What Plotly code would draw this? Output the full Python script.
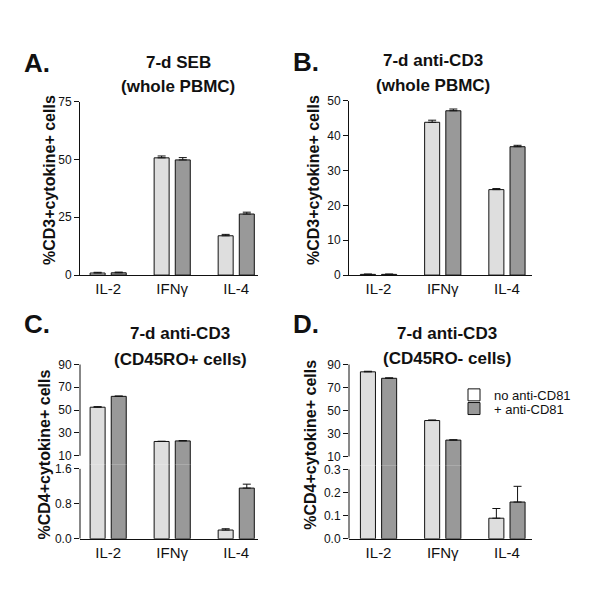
import math
import plotly.graph_objects as go

categories = ["IL-2", "IFNγ", "IL-4"]
series_names = ["no anti-CD81", "+ anti-CD81"]

# Panel A: 7-d SEB (whole PBMC), %CD3+cytokine+ cells
a_no = [0.9, 50.7, 17.0]
a_no_err = [0.3, 0.8, 0.6]
a_cd81 = [1.0, 49.8, 26.4]
a_cd81_err = [0.3, 1.0, 0.8]

# Panel B: 7-d anti-CD3 (whole PBMC)
b_no = [0.2, 43.8, 24.5]
b_no_err = [0.1, 0.6, 0.3]
b_cd81 = [0.2, 47.1, 36.8]
b_cd81_err = [0.1, 0.5, 0.4]

# Panel C: 7-d anti-CD3 (CD45RO+ cells), %CD4+cytokine+ cells
c_no = [52.5, 22.5, 0.20]
c_no_err = [0.5, 0.2, 0.03]
c_cd81 = [62.0, 23.0, 1.16]
c_cd81_err = [0.3, 0.3, 0.09]

# Panel D: 7-d anti-CD3 (CD45RO- cells)
d_no = [83.5, 41.2, 0.089]
d_no_err = [0.5, 0.5, 0.042]
d_cd81 = [77.9, 24.2, 0.159]
d_cd81_err = [0.4, 0.3, 0.068]

# tick values
a_ticks = [0, 25, 50, 75]
b_ticks = [0, 10, 20, 30, 40, 50]
upper_ticks = [10, 30, 50, 70, 90]
c_low_ticks = [0, 0.8, 1.6]
d_low_ticks = [0, 0.1, 0.2, 0.3]

LIGHT = "#dedede"
DARK = "#999999"
INK = "#111111"
FONT = "Liberation Sans, Arial, sans-serif"
OFF = 8  # page body margin


def px_y(p):
    return 1 - (p - OFF) / 600.0


def px_x(p):
    return (p - OFF) / 600.0


fig = go.Figure()


def add_pair(no, no_err, cd, cd_err, xa, ya):
    for vals, errs, col, name in [(no, no_err, LIGHT, series_names[0]),
                                  (cd, cd_err, DARK, series_names[1])]:
        fig.add_trace(go.Bar(
            x=categories, y=vals, name=name, showlegend=False, offsetgroup=name,
            marker=dict(color=col, line=dict(color=INK, width=1)),
            error_y=dict(type="data", array=errs, arrayminus=[0] * len(errs),
                         symmetric=False, color=INK, thickness=1, width=4),
            xaxis=xa, yaxis=ya,
        ))


def broken(top_px, ten_px, lowtop_px, zero_px, low_top_val, up_bottom_min):
    """Upper (10-90) and lower (0-low_top_val) panels of a broken y axis that touch,
    so that tall bars run continuously through the break."""
    scale_up = (ten_px - top_px) / 80.0
    up_bottom_px = math.floor(ten_px + (10 - up_bottom_min) * scale_up) + 0.0
    up_bottom_val = 10 - (up_bottom_px - ten_px) / scale_up
    scale_low = (zero_px - lowtop_px) / low_top_val
    low_range_top = (zero_px - up_bottom_px) / scale_low
    upper = dict(domain=[px_y(up_bottom_px), px_y(top_px)], range=[up_bottom_val, 90])
    lower = dict(domain=[px_y(zero_px), px_y(up_bottom_px)], range=[0, low_range_top])
    return upper, lower


c_up, c_low = broken(365.7, 459.3, 472.7, 544.3, 1.6, 2.5)
d_up, d_low = broken(365.7, 460.0, 473.3, 544.3, 0.3, 2.0)

add_pair(a_no, a_no_err, a_cd81, a_cd81_err, "x", "y")
add_pair(b_no, b_no_err, b_cd81, b_cd81_err, "x2", "y2")
add_pair(c_no, c_no_err, c_cd81, c_cd81_err, "x3", "y3")
add_pair(c_no, c_no_err, c_cd81, c_cd81_err, "x3", "y5")
add_pair(d_no, d_no_err, d_cd81, d_cd81_err, "x4", "y4")
add_pair(d_no, d_no_err, d_cd81, d_cd81_err, "x4", "y6")

# legend-only entries
fig.add_trace(go.Bar(x=[None], y=[None], name=series_names[0], showlegend=True,
                     offsetgroup=series_names[0], legend="legend",
                     marker=dict(color="white", line=dict(color=INK, width=1)),
                     xaxis="x4", yaxis="y4"))
fig.add_trace(go.Bar(x=[None], y=[None], name=series_names[1], showlegend=True,
                     offsetgroup=series_names[1], legend="legend2",
                     marker=dict(color=DARK, line=dict(color=INK, width=1)),
                     xaxis="x4", yaxis="y4"))

xcommon = dict(showline=True, linecolor=INK, linewidth=1, ticks="",
               showgrid=False, zeroline=False,
               tickfont=dict(family=FONT, size=15, color=INK))
ycommon = dict(showline=True, linecolor=INK, linewidth=1, ticks="outside",
               ticklen=5, tickcolor=INK, showgrid=False, zeroline=False,
               tickfont=dict(family=FONT, size=12, color=INK))
ybroken = {**ycommon, "showline": False}

left_dom = [px_x(80), px_x(258)]
right_dom = [px_x(349), px_x(532)]

legend_common = dict(xanchor="left", yanchor="middle", bgcolor="rgba(0,0,0,0)",
                     borderwidth=0, font=dict(family=FONT, size=13, color=INK))

fig.update_layout(
    width=600, height=600,
    margin=dict(l=0, r=0, t=0, b=0),
    paper_bgcolor="white", plot_bgcolor="rgba(0,0,0,0)",
    barmode="group", bargap=0.34, bargroupgap=0.29,
    font=dict(family=FONT, color=INK),
    xaxis=dict(domain=left_dom, range=[-0.44, 2.34], anchor="y", **xcommon),
    yaxis=dict(domain=[px_y(274.3), px_y(96.7)], range=[0, 75],
               tickvals=a_ticks, anchor="x", **ycommon),
    xaxis2=dict(domain=right_dom, range=[-0.46, 2.39], anchor="y2", **xcommon),
    yaxis2=dict(domain=[px_y(274.3), px_y(95.7)], range=[0, 50],
                tickvals=b_ticks, anchor="x2", **ycommon),
    xaxis3=dict(domain=left_dom, range=[-0.44, 2.34], anchor="y3", **xcommon),
    yaxis3=dict(tickvals=c_low_ticks, tickformat=".1f", anchor="x3", **c_low, **ybroken),
    yaxis5=dict(tickvals=upper_ticks, anchor="x3", **c_up, **ybroken),
    xaxis4=dict(domain=right_dom, range=[-0.46, 2.39], anchor="y4", **xcommon),
    yaxis4=dict(tickvals=d_low_ticks, tickformat=".1f", anchor="x4", **d_low, **ybroken),
    yaxis6=dict(tickvals=upper_ticks, anchor="x4", **d_up, **ybroken),
    legend=dict(x=px_x(454), y=px_y(397), **legend_common),
    legend2=dict(x=px_x(454), y=px_y(411), **legend_common),
)

# y axis line segments of the broken axes
for xa, ya, lo, hi in [("x3", "y5", 10, 90), ("x4", "y6", 10, 90),
                       ("x3", "y3", 0, 1.6), ("x4", "y4", 0, 0.3)]:
    fig.add_shape(type="line", xref=f"{xa} domain", yref=ya, x0=0, x1=0, y0=lo, y1=hi,
                  line=dict(color=INK, width=1))

annos = [
    # panel letters
    ("<b>A.</b>", 37, 57, 26, 0),
    ("<b>B.</b>", 306, 56, 26, 0),
    ("<b>C.</b>", 37, 324, 26, 0),
    ("<b>D.</b>", 306, 324, 26, 0),
    # titles
    ("<b>7-d SEB</b>", 178, 57, 17, 0),
    ("<b>(whole PBMC)</b>", 178, 81, 17, 0),
    ("<b>7-d anti-CD3</b>", 433, 55, 17, 0),
    ("<b>(whole PBMC)</b>", 433, 80, 17, 0),
    ("<b>7-d anti-CD3</b>", 180, 334, 17, 0),
    ("<b>(CD45RO+ cells)</b>", 180, 361, 17, 0),
    ("<b>7-d anti-CD3</b>", 447, 334, 17, 0),
    ("<b>(CD45RO- cells)</b>", 447, 360, 17, 0),
    # y titles
    ("<b>%CD3+cytokine+ cells</b>", 49, 177, 16, -90),
    ("<b>%CD3+cytokine+ cells</b>", 313, 177, 16, -90),
    ("<b>%CD4+cytokine+ cells</b>", 44, 458, 16, -90),
    ("<b>%CD4+cytokine+ cells</b>", 311, 448, 16, -90),
]
for text, x, y, size, ang in annos:
    fig.add_annotation(text=text, x=px_x(x), y=px_y(y), xref="paper", yref="paper",
                       showarrow=False, textangle=ang, xanchor="center", yanchor="middle",
                       font=dict(family=FONT, size=size, color=INK))

fig.write_html("out.html")
